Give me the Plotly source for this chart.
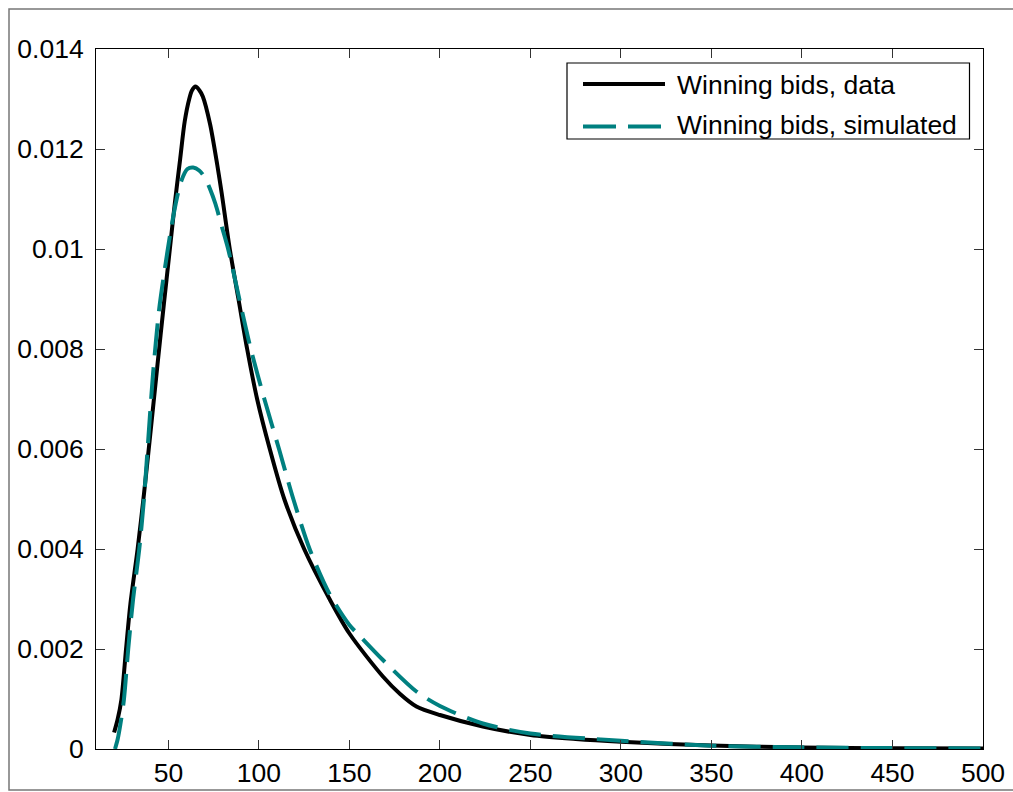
import plotly.graph_objects as go

# ---- data ----
data_x = [20, 22, 24, 26.6, 29, 33, 36.5, 40, 44, 47.5, 50.5, 53.5, 56.5, 59, 61.5, 63, 65,
          67, 69, 73, 77, 79.5, 83.9, 88.7, 93.5, 99, 106, 114, 125, 139, 150,
          168.5, 178, 187, 200, 223.7, 250, 275, 300, 350, 400, 450, 500]
data_y = [0.00033, 0.0006, 0.00098, 0.0020, 0.0029, 0.0040, 0.0051, 0.0063, 0.0077, 0.0089,
          0.0099, 0.0109, 0.0118, 0.01255, 0.0130, 0.01317, 0.01325, 0.01318, 0.01305, 0.0125,
          0.01168, 0.0111, 0.0100, 0.0090, 0.0080, 0.0070, 0.0060, 0.0050, 0.0040, 0.0030,
          0.00231, 0.00145, 0.0011, 0.00085, 0.00068, 0.00045, 0.00028, 0.0002, 0.000146,
          0.00007, 0.00003, 0.000015, 0.00001]

sim_x = [20.5, 22, 23.5, 25.4, 27.8, 30.5, 33.9, 36.5, 38.5, 41.5, 44.9, 48, 51, 54, 57,
         60.5, 63.7, 67, 70.1, 73, 76, 79.5, 83, 90.4, 95.5, 103, 111.1, 119, 128, 139, 150,
         156, 168.5, 187, 200, 223.7, 250, 300, 350, 400, 450, 500]
sim_y = [0.0, 0.0002, 0.0005, 0.00098, 0.0020, 0.0030, 0.0040, 0.0050, 0.0060, 0.0075, 0.0088,
         0.0096, 0.0103, 0.0109, 0.01135, 0.0116, 0.01163, 0.01157, 0.01143, 0.0112, 0.0109,
         0.01045, 0.0100, 0.0088, 0.0080, 0.0070, 0.0060, 0.0050, 0.0040, 0.0031, 0.00248,
         0.00225, 0.00178, 0.00115, 0.00086, 0.00051, 0.00031, 0.000166, 0.000066, 0.000033,
         0.000018, 0.00001]

x_ticks = [50, 100, 150, 200, 250, 300, 350, 400, 450, 500]
y_ticks = [0, 0.002, 0.004, 0.006, 0.008, 0.010, 0.012, 0.014]
y_tick_text = ["0", "0.002", "0.004", "0.006", "0.008", "0.01", "0.012", "0.014"]
legend_labels = ["Winning bids, data", "Winning bids, simulated"]

TEAL = "#008080"
FONT = "Liberation Sans, Arial, sans-serif"
FS = 26.5

W, H = 1013, 792
L, R, T, B = 96, 983, 49, 749


def px(xp):
    return (xp - L) / (R - L)


def py(yp):
    return (B - yp) / (B - T)


fig = go.Figure()
fig.add_trace(go.Scatter(x=data_x, y=data_y, mode="lines", name=legend_labels[0],
                         line=dict(color="black", width=4, shape="spline", smoothing=0.8),
                         showlegend=False))
fig.add_trace(go.Scatter(x=sim_x, y=sim_y, mode="lines", name=legend_labels[1],
                         line=dict(color=TEAL, width=4, shape="spline", smoothing=0.8,
                                   dash="32px,12px"),
                         showlegend=False))

axis_common = dict(showline=True, linecolor="black", linewidth=1, mirror="ticks",
                   ticks="inside", ticklen=9, tickcolor="#333", tickwidth=1,
                   showgrid=False, zeroline=False, automargin=False,
                   tickfont=dict(family=FONT, size=FS, color="black"))

fig.update_xaxes(range=[10, 500], tickvals=x_ticks, ticklabelstandoff=0, **axis_common)
fig.update_yaxes(range=[0, 0.014], tickvals=y_ticks, ticktext=y_tick_text,
                 ticklabelstandoff=6, **axis_common)

shapes = [
    # outer figure frame
    dict(type="rect", xref="paper", yref="paper", x0=px(9), x1=px(1030), y0=py(790), y1=py(9),
         line=dict(color="#777", width=1.5), layer="below"),
    # legend box
    dict(type="rect", xref="paper", yref="paper", x0=px(567), x1=px(969.5), y0=py(139), y1=py(63),
         line=dict(color="black", width=1.2), fillcolor="white", layer="above"),
    dict(type="line", xref="paper", yref="paper", x0=px(583), x1=px(665), y0=py(84), y1=py(84),
         line=dict(color="black", width=4), layer="above"),
    dict(type="line", xref="paper", yref="paper", x0=px(583), x1=px(665), y0=py(126.5), y1=py(126.5),
         line=dict(color=TEAL, width=4, dash="33px,12px"), layer="above"),
]

annotations = [
    dict(xref="paper", yref="paper", x=px(675), y=py(85), text=legend_labels[0],
         showarrow=False, xanchor="left", yanchor="middle",
         font=dict(family=FONT, size=FS, color="black")),
    dict(xref="paper", yref="paper", x=px(675), y=py(125), text=legend_labels[1],
         showarrow=False, xanchor="left", yanchor="middle",
         font=dict(family=FONT, size=FS, color="black")),
]

fig.update_layout(width=W, height=H, autosize=False,
                  margin=dict(l=L, r=W - R, t=T, b=H - B, pad=0),
                  paper_bgcolor="white", plot_bgcolor="white",
                  shapes=shapes, annotations=annotations, showlegend=False)

fig.write_html("out.html")
